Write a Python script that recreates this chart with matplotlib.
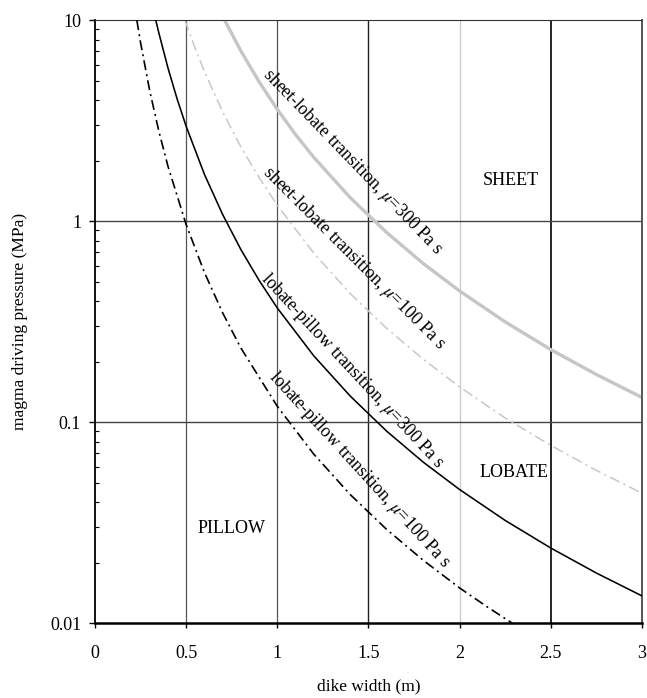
import numpy as np
import matplotlib
matplotlib.use('Agg')
from matplotlib import pyplot as plt
from matplotlib.ticker import LogLocator, NullFormatter, FixedLocator

plt.rcParams['font.family'] = ['Liberation Serif', 'DejaVu Serif']
plt.rcParams['mathtext.fontset'] = 'stix'

# values (dike width in m, driving pressure in MPa)
w_lp300 = [0.333, 0.35, 0.4, 0.45, 0.5, 0.6, 0.7, 0.8, 0.9, 1.0, 1.2, 1.4, 1.6, 1.8, 2.0, 2.25, 2.5, 2.75, 3.0]
p_lp300 = [10.0, 8.63, 5.78, 4.06, 2.96, 1.71, 1.08, 0.723, 0.508, 0.37, 0.214, 0.135, 0.0903, 0.0634, 0.0463, 0.0325, 0.0237, 0.0178, 0.0137]

w_lp100 = [0.229, 0.25, 0.3, 0.35, 0.4, 0.5, 0.6, 0.7, 0.8, 1.0, 1.2, 1.4, 1.6, 1.8, 2.0, 2.15, 2.29]
p_lp100 = [10.0, 7.68, 4.44, 2.80, 1.875, 0.96, 0.556, 0.350, 0.234, 0.12, 0.0694, 0.0437, 0.0293, 0.0206, 0.015, 0.0121, 0.0100]

w_sl100 = [0.493, 0.55, 0.6, 0.7, 0.8, 0.9, 1.0, 1.2, 1.4, 1.6, 1.8, 2.0, 2.25, 2.5, 2.75, 3.0]
p_sl100 = [10.0, 7.21, 5.56, 3.50, 2.34, 1.65, 1.2, 0.694, 0.437, 0.293, 0.206, 0.15, 0.105, 0.0768, 0.0577, 0.0444]

w_sl300 = [0.711, 0.8, 0.9, 1.0, 1.1, 1.2, 1.4, 1.6, 1.8, 2.0, 2.25, 2.5, 2.75, 3.0]
p_sl300 = [10.0, 7.03, 4.94, 3.6, 2.70, 2.08, 1.31, 0.879, 0.617, 0.45, 0.316, 0.230, 0.173, 0.133]

x_ticks = [0, 0.5, 1, 1.5, 2, 2.5, 3]
x_ticklabels = ['0', '0.5', '1', '1.5', '2', '2.5', '3']
y_ticks = [0.01, 0.1, 1, 10]
y_ticklabels = ['0.01', '0.1', '1', '10']

fig = plt.figure(figsize=(6.47, 6.98), dpi=100)
ax = fig.add_axes([0.147, 0.107, 0.845, 0.864])

ax.set_yscale('log')
ax.set_xlim(0, 3)
ax.set_ylim(0.01, 10)

# grid lines
for xv, c, lw in [(0.5, '#555555', 0.9), (1, '#555555', 0.9), (1.5, '#222222', 1.0),
                  (2, '#c8c8c8', 0.9), (2.5, '#000000', 1.2)]:
    ax.axvline(xv, color=c, lw=lw, zorder=1)
for yv in [0.1, 1]:
    ax.axhline(yv, color='#444444', lw=1.0, zorder=1)

ax.plot(w_sl300, p_sl300, color='#c6c6c6', lw=2.4, zorder=2, solid_capstyle='butt')
ax.plot(w_sl100, p_sl100, color='#c8c8c8', lw=1.1, dashes=(7, 2.8, 1.4, 2.8), zorder=2)
ax.plot(w_lp300, p_lp300, color='black', lw=1.15, zorder=3)
ax.plot(w_lp100, p_lp100, color='black', lw=1.2, dashes=(6, 2.5, 1.2, 2.5), zorder=3)

fs = 13
ax.text(1.41, 1.98, r'sheet-lobate transition, $\mu$=300 Pa s', rotation=-46, fontsize=fs,
        ha='center', va='center', rotation_mode='anchor')
ax.text(1.42, 0.655, r'sheet-lobate transition, $\mu$=100 Pa s', rotation=-45, fontsize=fs,
        ha='center', va='center', rotation_mode='anchor')
ax.text(1.41, 0.18, r'lobate-pillow transition, $\mu$=300 Pa s', rotation=-47, fontsize=fs,
        ha='center', va='center', rotation_mode='anchor')
ax.text(1.45, 0.058, r'lobate-pillow transition, $\mu$=100 Pa s', rotation=-47.5, fontsize=fs,
        ha='center', va='center', rotation_mode='anchor')

ax.text(2.28, 1.6, 'SHEET', fontsize=fs, ha='center', va='center')
ax.text(2.30, 0.0564, 'LOBATE', fontsize=fs, ha='center', va='center')
ax.text(0.75, 0.0297, 'PILLOW', fontsize=fs, ha='center', va='center')

ax.xaxis.set_major_locator(FixedLocator(x_ticks))
ax.set_xticklabels(x_ticklabels, fontsize=fs)
ax.yaxis.set_major_locator(FixedLocator(y_ticks))
ax.set_yticklabels(y_ticklabels, fontsize=fs)
ax.yaxis.set_minor_locator(LogLocator(base=10, subs=np.arange(2, 10)))
ax.yaxis.set_minor_formatter(NullFormatter())

ax.tick_params(axis='y', which='major', direction='out', length=4, width=1, pad=6)
ax.tick_params(axis='y', which='minor', direction='in', length=3, width=0.8)
ax.tick_params(axis='x', which='major', direction='out', length=3.5, width=1, pad=12)
ax.tick_params(axis='x', which='minor', bottom=False)

ax.spines['left'].set_linewidth(1.3)
ax.spines['bottom'].set_linewidth(1.8)
ax.spines['top'].set_color('#333333')
ax.spines['right'].set_color('#555555')
ax.spines['right'].set_linewidth(1.4)

ax.set_xlabel('dike width (m)', fontsize=12.5, labelpad=12)
ax.set_ylabel('magma driving pressure (MPa)', fontsize=12.5, labelpad=16)

plt.savefig('out.png', dpi=100)
